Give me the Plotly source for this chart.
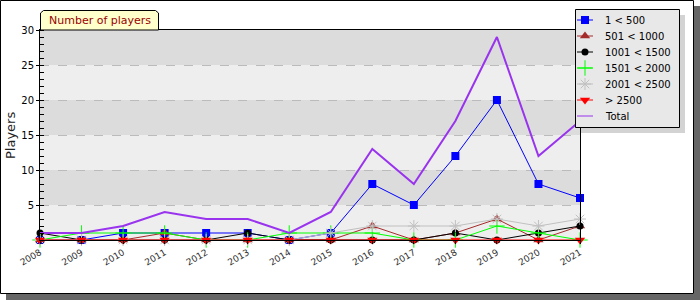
import plotly.graph_objects as go

years = list(range(2008, 2022))
s_1_500 = [0, 0, 1, 1, 1, 1, 0, 1, 8, 5, 12, 20, 8, 6]
s_501_1000 = [0, 0, 0, 1, 0, 0, 0, 0, 2, 0, 1, 3, 0, 2]
s_1001_1500 = [1, 0, 0, 0, 0, 1, 0, 0, 0, 0, 1, 0, 1, 2]
s_1501_2000 = [0, 1, 1, 1, 0, 0, 1, 1, 1, 0, 0, 2, 1, 0]
s_2001_2500 = [0, 0, 0, 0, 0, 0, 0, 1, 2, 2, 2, 3, 2, 3]
s_gt_2500 = [0, 0, 0, 0, 0, 0, 0, 0, 0, 0, 0, 0, 0, 0]
total = [1, 1, 2, 4, 3, 3, 1, 4, 13, 8, 17, 29, 12, 17]

names = ["1 &lt; 500", "501 &lt; 1000", "1001 &lt; 1500", "1501 &lt; 2000",
         "2001 &lt; 2500", "&gt; 2500", "Total"]
y_ticks = [5, 10, 15, 20, 25, 30]

W, H = 700, 300
L, R, T, B = 40, 580, 30, 240  # plot area in pixels

FONT = "DejaVu Sans"

series = [
    (s_1_500, "#0000ff", dict(symbol="square", size=8, color="#0000ff")),
    (s_501_1000, "#a52a2a", dict(symbol="triangle-up", size=9, color="#a52a2a")),
    (s_1001_1500, "#000000", dict(symbol="circle", size=7, color="#000000")),
    (s_1501_2000, "#00ff00", dict(symbol="cross-thin-open", size=11, color="#00ff00",
                                  line=dict(color="#00ff00", width=1))),
    (s_2001_2500, "#c0c0c0", dict(symbol="asterisk-open", size=10, color="#c0c0c0",
                                  line=dict(color="#c0c0c0", width=1))),
    (s_gt_2500, "#ff0000", dict(symbol="triangle-down", size=9, color="#ff0000")),
    (total, "#9933ee", None),
]

fig = go.Figure()

# data traces on the main axes
for (vals, col, mk), nm in zip(series, names):
    if mk is None:
        fig.add_trace(go.Scatter(x=years, y=vals, name=nm, mode="lines",
                                 line=dict(color=col, width=2), showlegend=False,
                                 hoverinfo="skip"))
    else:
        fig.add_trace(go.Scatter(x=years, y=vals, name=nm, mode="lines+markers",
                                 line=dict(color=col, width=1), marker=mk,
                                 cliponaxis=False, showlegend=False))

# legend keys on a pixel-space overlay subplot
LG_L, LG_R, LG_T, LG_B = 575, 679, 9, 127
row_y = [20 + 16 * i for i in range(len(names))]
annotations = []
for (vals, col, mk), nm, ry in zip(series, names, row_y):
    fig.add_trace(go.Scatter(x=[LG_L + 2, LG_L + 18], y=[ry, ry], mode="lines",
                             line=dict(color=col, width=1), xaxis="x2", yaxis="y2",
                             showlegend=False, hoverinfo="skip"))
    if mk is not None:
        fig.add_trace(go.Scatter(x=[LG_L + 10], y=[ry], mode="markers", marker=mk,
                                 xaxis="x2", yaxis="y2", showlegend=False,
                                 hoverinfo="skip"))
    annotations.append(dict(text=nm, xref="x2", yref="y2", x=LG_L + 28, y=ry,
                            showarrow=False, xanchor="left", yanchor="middle",
                            font=dict(family=FONT, size=10, color="black")))

shapes = []
# plot background and bands
shapes.append(dict(type="rect", xref="x", yref="y", x0=years[0], x1=years[-1], y0=0, y1=30,
                   fillcolor="#eeeeee", line_width=0, layer="below"))
for lo in (5, 15, 25):
    shapes.append(dict(type="rect", xref="x", yref="y", x0=years[0], x1=years[-1],
                       y0=lo, y1=lo + 5, fillcolor="#dcdcdc", line_width=0, layer="below"))
# legend box + shadow (overlay subplot, below legend keys, above main plot)
shapes.append(dict(type="rect", xref="x2", yref="y2", x0=LG_L + 6, x1=LG_R + 6,
                   y0=LG_T + 6, y1=LG_B + 6, fillcolor="#d3d3d3", line_width=0, layer="below"))
shapes.append(dict(type="rect", xref="x2", yref="y2", x0=LG_L + 0.5, x1=LG_R + 0.5,
                   y0=LG_T + 0.5, y1=LG_B + 0.5, fillcolor="#e8e8e8",
                   line=dict(color="black", width=1), layer="below"))
# outer border + shadow
shapes.append(dict(type="rect", xref="x2", yref="y2", x0=694, x1=700, y0=6, y1=300,
                   fillcolor="#666666", line_width=0, layer="above"))
shapes.append(dict(type="rect", xref="x2", yref="y2", x0=6, x1=700, y0=294, y1=300,
                   fillcolor="#666666", line_width=0, layer="above"))
shapes.append(dict(type="rect", xref="x2", yref="y2", x0=0.5, x1=693.5, y0=0.5, y1=293.5,
                   line=dict(color="black", width=1), layer="above"))
# title tab
pts = [(40.5, 30), (40.5, 13), (43.5, 10.5), (155.5, 10.5), (158.5, 13), (158.5, 30)]
path = "M " + " L ".join(f"{a},{b}" for a, b in pts) + " Z"
shapes.append(dict(type="path", xref="x2", yref="y2", path=path,
                   fillcolor="#ffffcc", line=dict(color="black", width=1), layer="above"))

annotations += [
    dict(text="Number of players", xref="x2", yref="y2", x=99.5, y=20.5,
         showarrow=False, font=dict(family=FONT, size=11, color="#990000"),
         xanchor="center", yanchor="middle"),
    dict(text="Players", xref="x2", yref="y2", x=10, y=136,
         showarrow=False, textangle=-90, font=dict(family=FONT, size=13, color="#222222"),
         xanchor="center", yanchor="middle"),
]

fig.update_layout(
    width=W, height=H,
    margin=dict(l=0, r=0, t=0, b=0, pad=0, autoexpand=False),
    paper_bgcolor="white", plot_bgcolor="rgba(0,0,0,0)",
    font=dict(family=FONT, size=10, color="black"),
    shapes=shapes, annotations=annotations,
    showlegend=False,
    xaxis=dict(domain=[L / W, R / W], range=[years[0], years[-1]], tickvals=years,
               ticktext=[str(y) for y in years], automargin=False,
               tickangle=-30, tickfont=dict(size=9, color="#333333"),
               showgrid=False, zeroline=False, showline=True, linecolor="black",
               linewidth=1, mirror=True, ticks="outside", ticklen=3, tickcolor="black"),
    yaxis=dict(domain=[1 - B / H, 1 - T / H], range=[0, 30], tickvals=y_ticks,
               tickfont=dict(size=10, color="black"), automargin=False,
               showgrid=True, gridcolor="#bbbbbb", griddash="dash", gridwidth=1,
               zeroline=False, showline=True, linecolor="black", linewidth=1, mirror=True,
               ticks="outside", ticklen=3, tickcolor="black",
               minor=dict(ticks="inside", ticklen=4, dtick=1, tickcolor="black",
                          showgrid=False)),
    xaxis2=dict(domain=[0, 1], range=[0, W], visible=False, anchor="y2", automargin=False),
    yaxis2=dict(domain=[0, 1], range=[H, 0], visible=False, anchor="x2", automargin=False),
)

fig.write_html("out.html")
